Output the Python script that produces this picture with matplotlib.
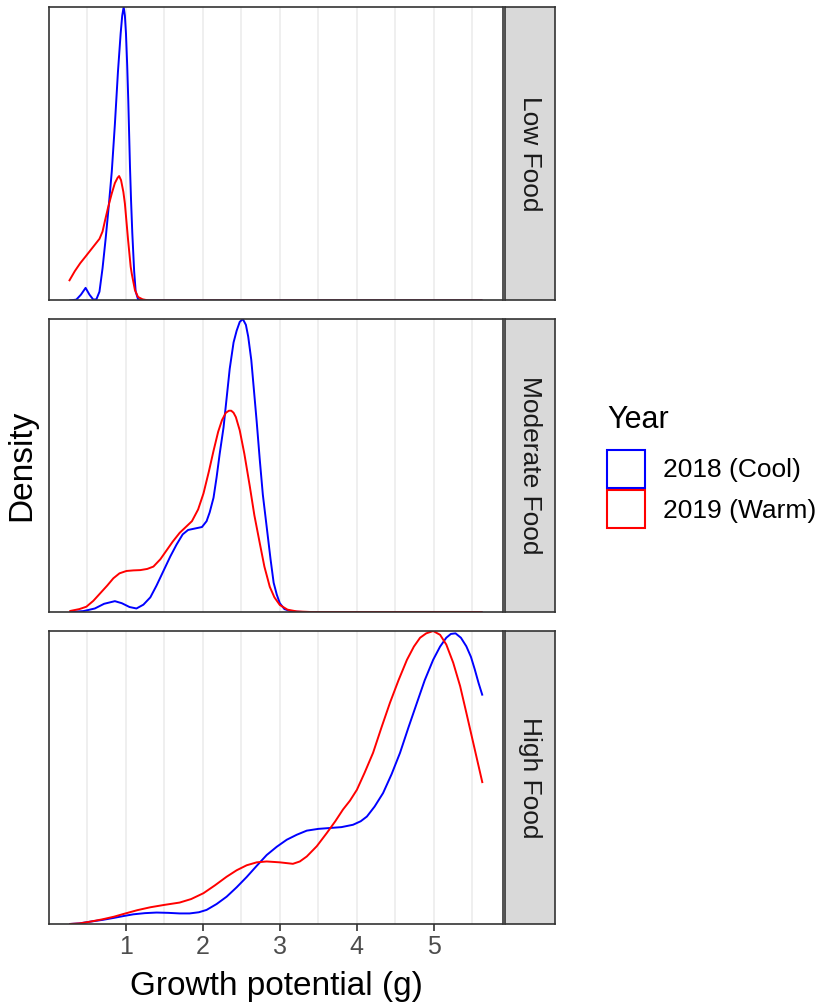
import matplotlib
matplotlib.use("Agg")
import matplotlib.pyplot as plt
from matplotlib.patches import Patch

plt.rcParams["font.family"] = ["Liberation Sans", "DejaVu Sans"]

# values (relative density, panel peak = 1)
# Low Food
low_x_2018 = [0.27, 0.36, 0.42, 0.48, 0.53, 0.58, 0.62, 0.66, 0.70, 0.74, 0.78, 0.82, 0.86,
              0.90, 0.935, 0.955, 0.974, 0.99, 1.004, 1.02, 1.034, 1.056, 1.07, 1.086, 1.11,
              1.13, 1.16, 1.20, 5.63]
low_y_2018 = [0.0, 0.003, 0.02, 0.043, 0.02, 0.003, 0.004, 0.03, 0.11, 0.21, 0.32, 0.44, 0.60,
              0.78, 0.91, 0.97, 1.0, 0.97, 0.91, 0.80, 0.68, 0.455, 0.34, 0.23, 0.10,
              0.03, 0.005, 0.0, 0.0]
low_x_2019 = [0.265, 0.34, 0.41, 0.48, 0.54, 0.60, 0.66, 0.70, 0.73, 0.77, 0.82, 0.86, 0.895,
              0.915, 0.94, 0.97, 0.99, 1.03, 1.065, 1.08, 1.12, 1.16, 1.22, 1.30, 5.63]
low_y_2019 = [0.066, 0.10, 0.127, 0.15, 0.17, 0.19, 0.21, 0.235, 0.27, 0.315, 0.365, 0.40, 0.418,
              0.424, 0.41, 0.37, 0.33, 0.21, 0.115, 0.09, 0.036, 0.012, 0.004, 0.0, 0.0]

# Moderate Food
mod_x_2018 = [0.27, 0.45, 0.60, 0.72, 0.86, 0.95, 1.05, 1.14, 1.23, 1.32, 1.40, 1.49, 1.58,
              1.66, 1.74, 1.81, 1.90, 1.99, 2.05, 2.09, 2.14, 2.18, 2.22, 2.27, 2.31, 2.35,
              2.40, 2.44, 2.48, 2.52, 2.56, 2.59, 2.63, 2.66, 2.70, 2.74, 2.78, 2.83, 2.88,
              2.92, 2.96, 3.00, 3.06, 3.15, 3.30, 5.63]
mod_y_2018 = [0.0, 0.003, 0.012, 0.028, 0.037, 0.03, 0.017, 0.012, 0.025, 0.05, 0.09, 0.14, 0.19,
              0.23, 0.265, 0.28, 0.285, 0.29, 0.31, 0.34, 0.39, 0.46, 0.54, 0.63, 0.73, 0.83,
              0.92, 0.96, 0.99, 1.0, 0.98, 0.94, 0.86, 0.77, 0.65, 0.52, 0.40, 0.29, 0.18,
              0.10, 0.06, 0.03, 0.01, 0.002, 0.0, 0.0]
mod_x_2019 = [0.27, 0.40, 0.49, 0.58, 0.67, 0.76, 0.84, 0.92, 1.01, 1.10, 1.19, 1.28, 1.36,
              1.45, 1.53, 1.61, 1.70, 1.78, 1.86, 1.94, 2.01, 2.08, 2.14, 2.20, 2.25, 2.30,
              2.34, 2.37, 2.40, 2.43, 2.48, 2.54, 2.61, 2.67, 2.74, 2.80, 2.87, 2.93, 3.00,
              3.10, 3.22, 3.40, 5.63]
mod_y_2019 = [0.003, 0.01, 0.018, 0.038, 0.064, 0.09, 0.115, 0.132, 0.14, 0.142, 0.143, 0.147, 0.155,
              0.18, 0.21, 0.24, 0.27, 0.29, 0.31, 0.35, 0.405, 0.48, 0.55, 0.615, 0.655, 0.68,
              0.687, 0.687, 0.68, 0.665, 0.62, 0.54, 0.43, 0.33, 0.235, 0.155, 0.086, 0.05, 0.024,
              0.008, 0.002, 0.0, 0.0]

# High Food
high_x_2018 = [0.27, 0.40, 0.54, 0.70, 0.85, 0.97, 1.10, 1.25, 1.40, 1.55, 1.70, 1.83, 1.95,
               2.05, 2.18, 2.31, 2.44, 2.57, 2.70, 2.83, 2.96, 3.09, 3.22, 3.35, 3.50, 3.65,
               3.80, 3.95, 4.05, 4.13, 4.23, 4.34, 4.45, 4.56, 4.67, 4.78, 4.88, 4.99, 5.08,
               5.16, 5.22, 5.28, 5.35, 5.42, 5.48, 5.53, 5.58, 5.63]
high_y_2018 = [0.0, 0.002, 0.008, 0.014, 0.021, 0.027, 0.033, 0.037, 0.039, 0.038, 0.036, 0.036, 0.04,
               0.048, 0.068, 0.093, 0.125, 0.16, 0.198, 0.235, 0.263, 0.287, 0.304, 0.318, 0.324, 0.327,
               0.33, 0.338, 0.35, 0.366, 0.40, 0.446, 0.51, 0.583, 0.67, 0.754, 0.83, 0.90, 0.945,
               0.975, 0.988, 0.99, 0.975, 0.946, 0.91, 0.867, 0.82, 0.778]
high_x_2019 = [0.27, 0.40, 0.54, 0.70, 0.85, 0.97, 1.15, 1.32, 1.50, 1.70, 1.85, 2.01, 2.16,
               2.31, 2.44, 2.57, 2.70, 2.83, 3.00, 3.17, 3.26, 3.35, 3.48, 3.61, 3.72, 3.82,
               3.91, 4.00, 4.10, 4.21, 4.32, 4.43, 4.54, 4.65, 4.74, 4.82, 4.90, 4.99, 5.08,
               5.16, 5.25, 5.34, 5.42, 5.49, 5.56, 5.63]
high_y_2019 = [0.0, 0.002, 0.008, 0.016, 0.025, 0.034, 0.047, 0.057, 0.065, 0.073, 0.085, 0.105, 0.132,
               0.161, 0.183, 0.20, 0.21, 0.213, 0.21, 0.205, 0.213, 0.23, 0.265, 0.31, 0.35, 0.39,
               0.42, 0.457, 0.515, 0.583, 0.67, 0.754, 0.83, 0.90, 0.945, 0.975, 0.99, 0.998, 0.985,
               0.952, 0.89, 0.81, 0.72, 0.64, 0.56, 0.48]

panels = ["Low Food", "Moderate Food", "High Food"]
years = ["2018 (Cool)", "2019 (Warm)"]
colors = ["#0000FF", "#FF0000"]
xticks = [1, 2, 3, 4, 5]

curves = [
    [(low_x_2018, low_y_2018), (low_x_2019, low_y_2019)],
    [(mod_x_2018, mod_y_2018), (mod_x_2019, mod_y_2019)],
    [(high_x_2018, high_y_2018), (high_x_2019, high_y_2019)],
]

W, H = 821, 1008
fig = plt.figure(figsize=(W / 100, H / 100), dpi=100)

def box(l, t, r, b):
    return [l / W, 1 - b / H, (r - l) / W, (b - t) / H]

panel_px = [(7, 300.5), (319, 612), (631, 924)]
border = "#333333"

for i, (top, bot) in enumerate(panel_px):
    ax = fig.add_axes(box(48.6, top, 503.3, bot))
    for v in [0.5, 1, 1.5, 2, 2.5, 3, 3.5, 4, 4.5, 5, 5.5]:
        ax.axvline(v, color="#EBEBEB", lw=1.1, zorder=0)
    ymax = 0
    for (xs, ys), c in zip(curves[i], colors):
        ax.plot(xs, ys, color=c, lw=1.4, solid_capstyle="butt")
        ymax = max(ymax, max(ys))
    ax.set_xlim(0.0, 5.9)
    ax.set_ylim(0, ymax)
    ax.set_yticks([])
    for s in ax.spines.values():
        s.set_color(border)
        s.set_linewidth(1.2)
    ax.set_xticks(xticks)
    if i == 2:
        ax.set_xticklabels([str(t) for t in xticks], fontsize=18, color="#4D4D4D")
        ax.tick_params(axis="x", length=5, width=1.2, color=border, pad=3)
    else:
        ax.tick_params(axis="x", length=0, labelbottom=False)

    sax = fig.add_axes(box(505, top, 555, bot))
    sax.set_facecolor("#D9D9D9")
    sax.set_xticks([])
    sax.set_yticks([])
    for s in sax.spines.values():
        s.set_color(border)
        s.set_linewidth(1.2)
    sax.text(0.5, 0.5, panels[i], rotation=-90, ha="center", va="center",
             fontsize=19, color="#1A1A1A", transform=sax.transAxes)

fig.text(276 / W, 1 - 986 / H, "Growth potential (g)", ha="center", va="center", fontsize=24)
fig.text(22 / W, 1 - 465.5 / H, "Density", ha="center", va="center", rotation=90, fontsize=24)

# legend: title as its own text so the gap to the keys matches
fig.text(607 / W, 1 - 428 / H, "Year", ha="left", va="baseline", fontsize=22)
handles = [Patch(facecolor="none", edgecolor=c, linewidth=1.5) for c in colors]
leg = fig.legend(handles, years, loc="upper left",
                 bbox_to_anchor=(607 / W, 1 - 450 / H), frameon=False,
                 fontsize=19, handlelength=1.45, handleheight=1.84,
                 handletextpad=0.68, labelspacing=0.08, borderpad=0, borderaxespad=0)

fig.savefig("out.png", dpi=100)
